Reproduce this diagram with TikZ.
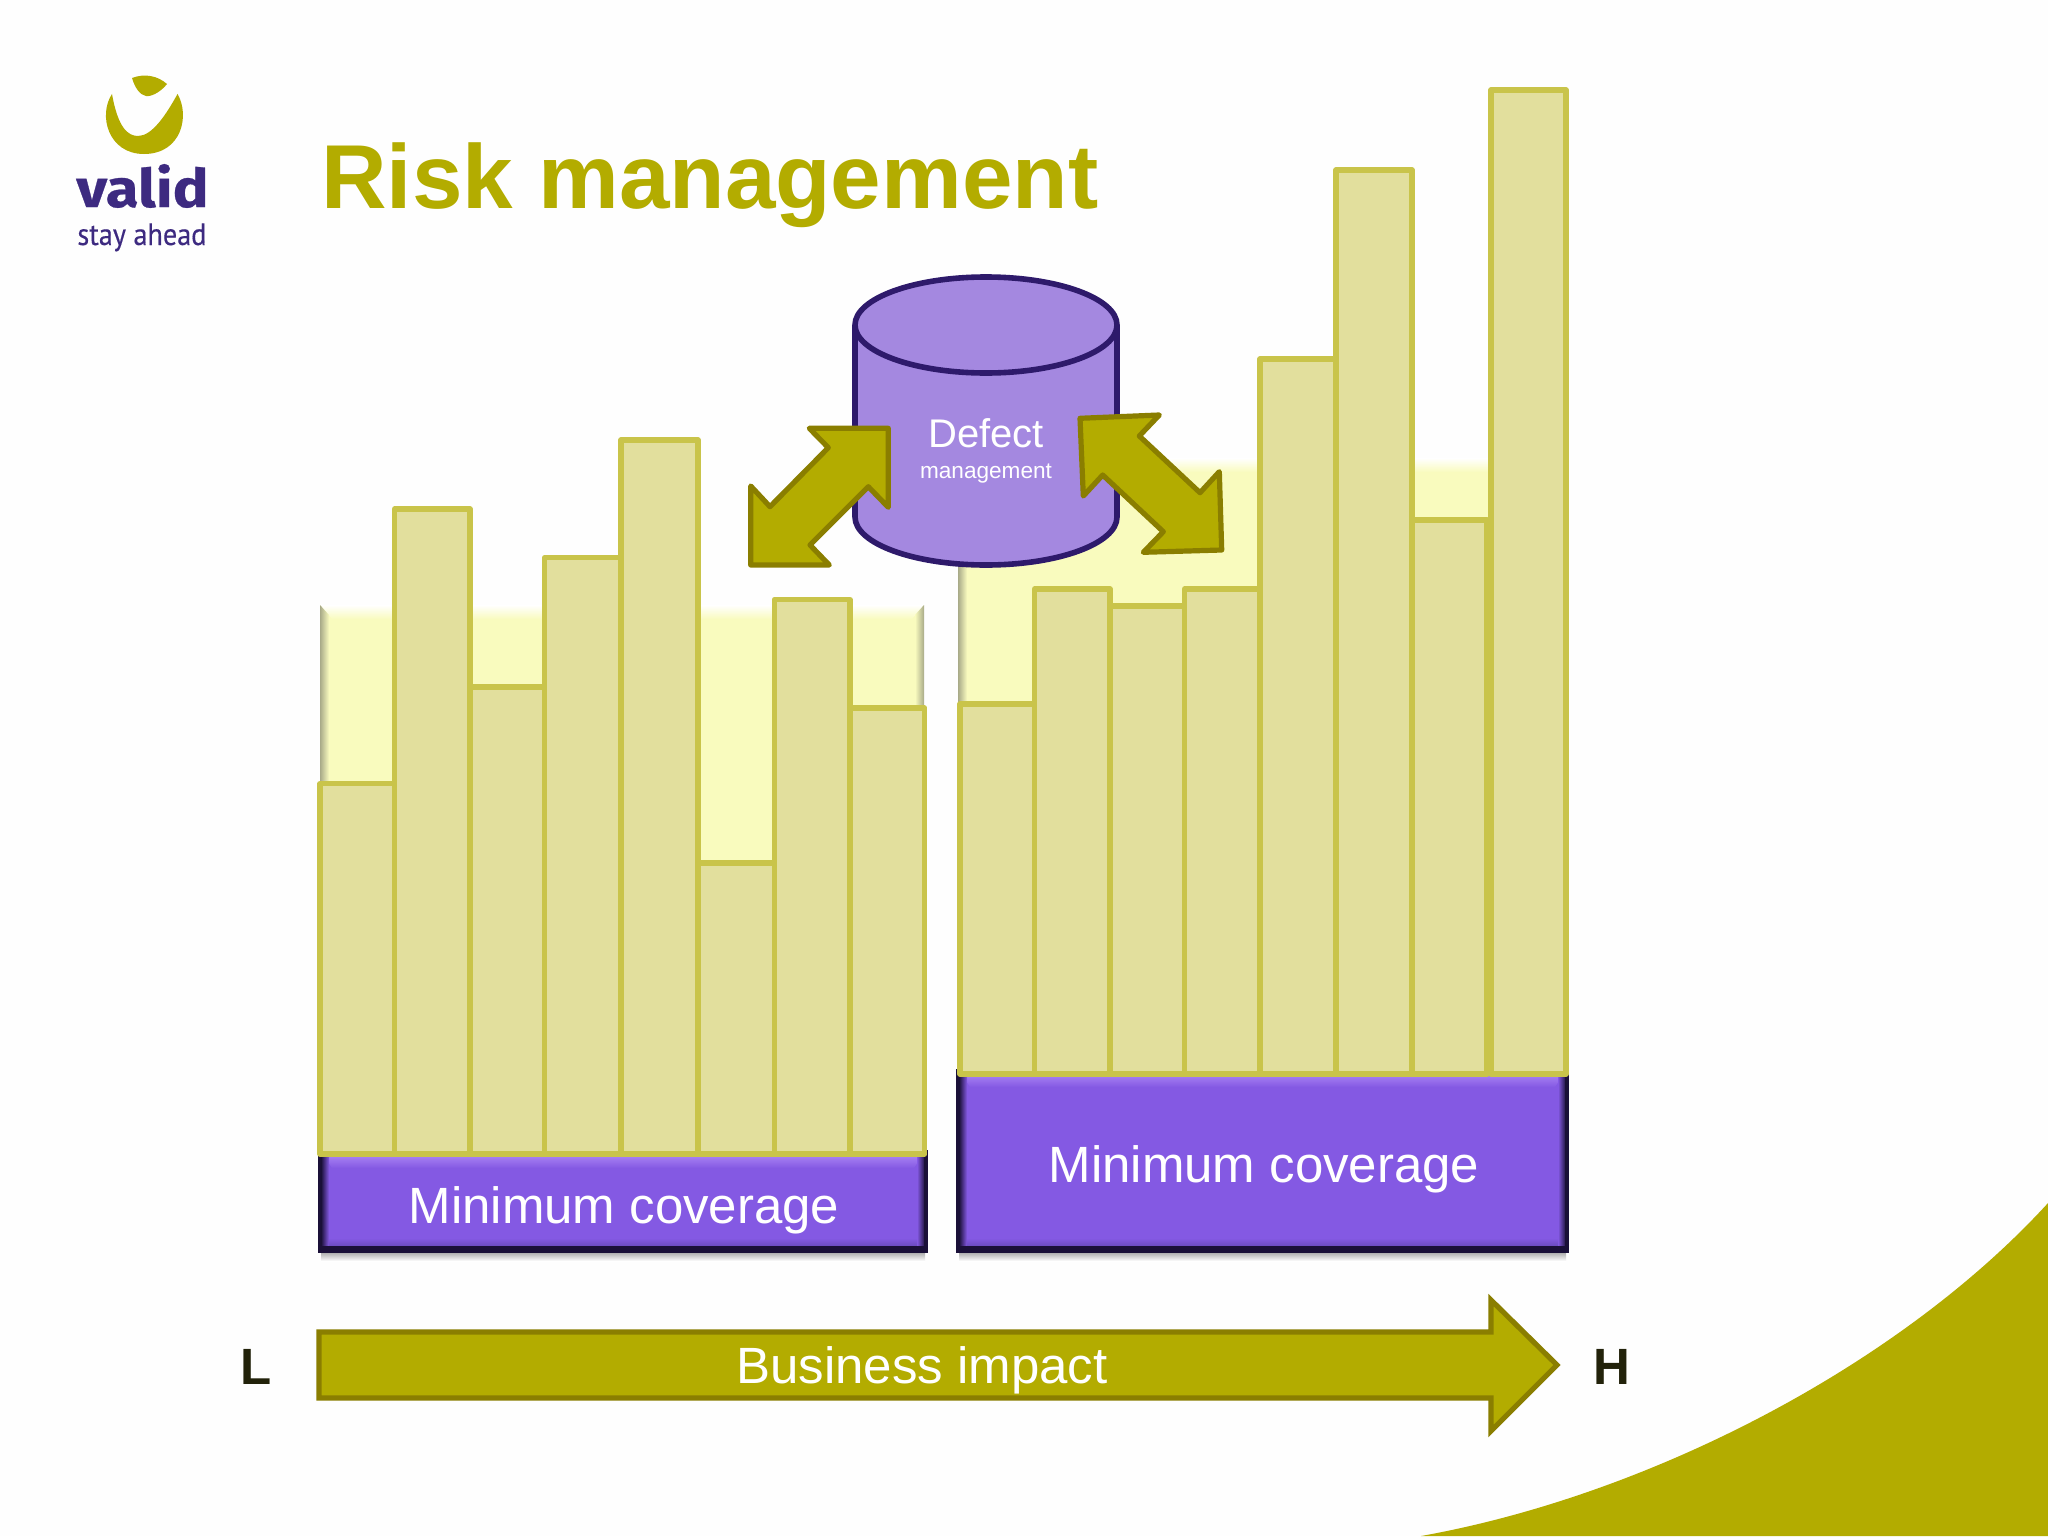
\documentclass[tikz,border=0pt]{standalone}
\usepackage{fontspec}
\setmainfont{Liberation Sans}
\newfontfamily\logoA[FakeStretch=1.13,FakeBold=0.5,UprightFont=* Bold]{Fira Sans}
\newfontfamily\logoB[FakeStretch=0.91,FakeBold=0.3]{PT Sans}
\usetikzlibrary{shadings}
\definecolor{olive}{HTML}{B3AC00}
\definecolor{olivedark}{HTML}{8A7E00}
\definecolor{barfill}{HTML}{E2DF9D}
\definecolor{barline}{HTML}{C9C44A}
\definecolor{pale}{HTML}{F9FBBE}
\definecolor{panelgrey}{HTML}{A8AA88}
\definecolor{violet}{HTML}{8459E3}
\definecolor{violetlight}{HTML}{A780F2}
\definecolor{violetmid}{HTML}{6B4BBF}
\definecolor{violetdark}{HTML}{1A1038}
\definecolor{cylfill}{HTML}{A488E0}
\definecolor{cylline}{HTML}{2E1A6B}
\definecolor{logopurple}{HTML}{3D2A80}
\definecolor{endlabel}{HTML}{22220A}
\tikzset{
  barbox/.style={draw=barline,fill=barfill,line width=2.7pt,line join=round},
  doublearrow/.style={draw=olivedark,fill=olive,line width=2.6pt,line join=round},
  cylstroke/.style={draw=cylline,line width=2.8pt},
  whitelabel/.style={text=white,inner sep=0pt,font=\fontsize{25.5}{30}\selectfont},
  endlabelstyle/.style={inner sep=0pt,anchor=base,text=endlabel,font=\bfseries\fontsize{25.5}{30}\selectfont},
}
\newcommand{\barsrow}[2]{%
  \foreach \xa/\xb/\yt in {#1}{\draw[barbox] (\xa,\yt) rectangle (\xb,#2);}}
\newcommand{\violetbox}[4]{%
  \shade[top color=black!30,bottom color=white] (#1+3,#4) rectangle (#3-3,#4+8);
  \fill[violet] (#1,#2) rectangle (#3,#4);
  \shade[top color=violetlight,bottom color=violet] (#1+6,#2+6) -- (#3-6,#2+6) -- (#3-14,#2+18) -- (#1+14,#2+18) -- cycle;
  \shade[left color=violetdark,right color=violet] (#1+3,#2) rectangle (#1+11,#4-8);
  \shade[left color=violet,right color=violetdark] (#3-11,#2) rectangle (#3-3,#4-8);
  \shade[bottom color=violetmid,top color=violet] (#1+11,#4-7) -- (#1+11,#4-15) -- (#3-11,#4-15) -- (#3-11,#4-7) -- cycle;
  \fill[violetdark] (#1,#2) rectangle (#1+4,#4);
  \fill[violetdark] (#3-4,#2) rectangle (#3,#4);
  \fill[violetdark] (#1,#4-7) rectangle (#3,#4);
}
\newcommand{\palepanel}[4]{%
  \fill[pale] (#1,#2) rectangle (#3,#4);
  \shade[top color=white,bottom color=pale] (#1,#2) -- (#3,#2) -- (#3-12,#2+14) -- (#1+12,#2+14) -- cycle;
  \shade[left color=panelgrey,right color=pale] (#1,#2) -- (#1+9,#2+10) -- (#1+9,#4) -- (#1,#4) -- cycle;
}
\begin{document}
\begin{tikzpicture}[x=0.5pt,y=-0.5pt]
\useasboundingbox (0,0) rectangle (2048,1536);
\fill[white!99.5!black] (0,0) rectangle (2048,1536);
% corner swoosh
\fill[olive] (2048,1203) .. controls (1900,1365) and (1650,1495) .. (1421,1536) -- (2048,1536) -- cycle;
% logo
\fill[olive] (112,94) .. controls (118,128) and (128,136) .. (138,136)
  .. controls (152,136) and (166,115) .. (177.5,94)
  .. controls (190,115) and (182,154) .. (144,154)
  .. controls (108,154) and (98,115) .. (112,94) -- cycle;
\fill[olive] (132,78) .. controls (145,73) and (158,76) .. (167,84)
  .. controls (160,93) and (150,97) .. (146,96) .. controls (140,95) and (135,88) .. (132,78) -- cycle;
\node[inner sep=0pt,anchor=base west,text=logopurple] (logoname) at (76,207)
  {\logoA\fontsize{26.5}{30}\selectfont valid};
\node[inner sep=0pt,anchor=base west,text=logopurple] (logotag) at (77,245)
  {\logoB\fontsize{15.5}{18}\selectfont stay ahead};
% title
\node[inner sep=0pt,anchor=base west,text=olive] (title) at (321,208)
  {\bfseries\fontsize{45.4}{50}\selectfont Risk management};
% pale panels
\palepanel{320}{605}{924}{1154}
\shade[left color=pale,right color=panelgrey] (915,615) -- (924,605) -- (924,1154) -- (915,1154) -- cycle;
\palepanel{958}{458}{1560}{1074}
% minimum coverage boxes
\violetbox{318}{1150}{928}{1253}
\violetbox{956}{1069}{1569}{1253}
% bars
\barsrow{320/394.5/783.6,394.5/470/509,470/544.6/687,544.6/621/557.7,621/698/440,698/774.5/863,774.5/850/599.5,850/924.6/708}{1154}
\barsrow{960/1034.5/704,1034.5/1110/589,1110/1184.5/606,1184.5/1260/589,1260/1336/359,1336/1412/170,1412/1487/520,1491/1566/90}{1074}
\node[whitelabel] (minA) at (624,1210) {Minimum coverage};
\node[whitelabel] (minB) at (1264,1169) {Minimum coverage};
% cylinder
\draw[cylstroke,fill=cylfill]
  (855,325) -- (855,517) arc[start angle=180,end angle=0,x radius=131,y radius=48]
  -- (1117,325) arc[start angle=0,end angle=-180,x radius=131,y radius=48] -- cycle;
\draw[cylstroke]
  (855,325) arc[start angle=180,end angle=0,x radius=131,y radius=48];
\node[inner sep=0pt,text=white,font=\fontsize{20}{24}\selectfont] (defect) at (986,433) {Defect};
\node[inner sep=0pt,text=white,font=\fontsize{11.3}{14}\selectfont] (mgmt) at (986,474) {management};
% double arrows
\draw[doublearrow] (888.3,428.3) -- (809.3,428.3) -- (828.3,447.7) -- (770,506.7) -- (750.7,486) -- (750.7,565) -- (829.3,565) -- (810,545) -- (868.3,486.7) -- (888.3,507.3) -- cycle;
\draw[doublearrow] (1080,418.3) -- (1159.3,415) -- (1139.3,436) -- (1200,492.7) -- (1219.3,471.7) -- (1221.7,550) -- (1143.3,552.3) -- (1163.3,531.7) -- (1102.7,475) -- (1083.3,496) -- cycle;
% impact arrow
\draw[draw=olivedark,fill=olive,line width=2.6pt,line join=miter]
  (319,1332) -- (1491,1332) -- (1491,1300) -- (1557,1365) -- (1491,1431) -- (1491,1398) -- (319,1398) -- cycle;
\node[whitelabel] (impact) at (922,1370) {Business impact};
\node[endlabelstyle] (lowend) at (256,1384) {L};
\node[endlabelstyle] (highend) at (1612,1384) {H};
\end{tikzpicture}
\end{document}
